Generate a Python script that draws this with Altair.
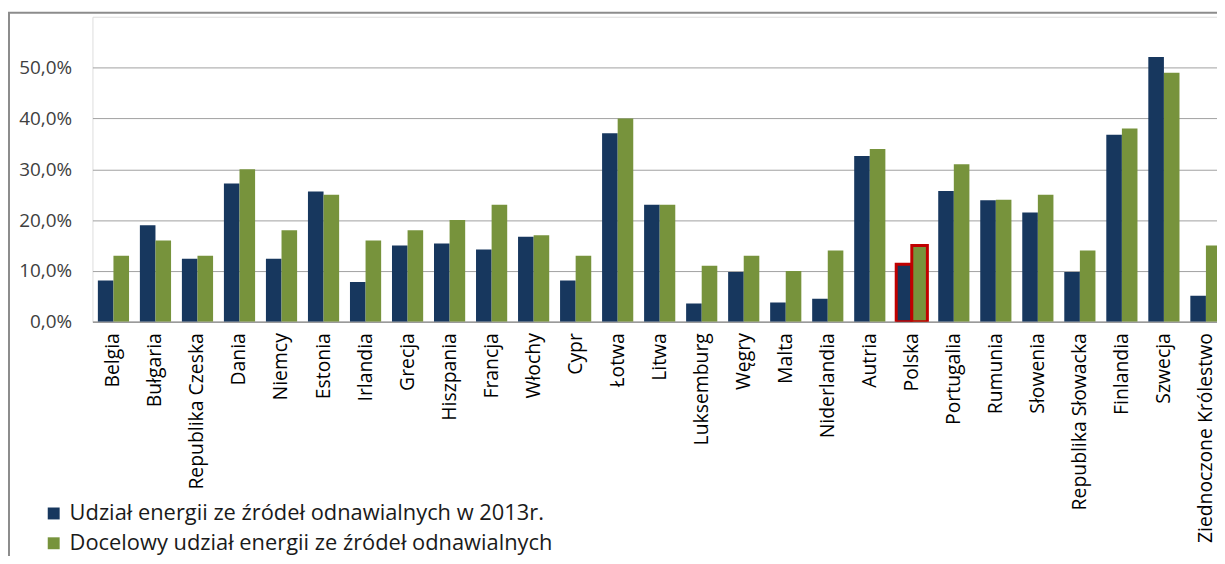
import altair as alt
import pandas as pd

countries = ["Belgia", "Bułgaria", "Republika Czeska", "Dania", "Niemcy", "Estonia", "Irlandia",
             "Grecja", "Hiszpania", "Francja", "Włochy", "Cypr", "Łotwa", "Litwa", "Luksemburg",
             "Węgry", "Malta", "Niderlandia", "Autria", "Polska", "Portugalia", "Rumunia",
             "Słowenia", "Republika Słowacka", "Finlandia", "Szwecja", "Ziednoczone Królestwo"]
share_2013 = [8.1, 19.0, 12.4, 27.2, 12.4, 25.6, 7.8, 15.0, 15.4, 14.2, 16.7, 8.1, 37.1, 23.0, 3.6,
              9.8, 3.8, 4.5, 32.6, 11.3, 25.7, 23.9, 21.5, 9.8, 36.8, 52.1, 5.1]
target_share = [13, 16, 13, 30, 18, 25, 16, 18, 20, 23, 17, 13, 40, 23, 11, 13, 10, 14, 34, 15, 31,
                24, 25, 14, 38, 49, 15]
series = ["Udział energii ze źródeł odnawialnych w 2013r.",
          "Docelowy udział energii ze źródeł odnawialnych"]
y_ticks = [0, 10, 20, 30, 40, 50]
highlight = "Polska"

rows = []
for c, a, b in zip(countries, share_2013, target_share):
    rows.append({"kraj": c, "seria": series[0], "wartosc": a})
    rows.append({"kraj": c, "seria": series[1], "wartosc": b})
df = pd.DataFrame(rows)

W = 1132
H = 307
FULL = 1142

bars = alt.Chart(df).mark_bar(clip=True).encode(
    x=alt.X("kraj:N", sort=countries,
            scale=alt.Scale(range=[0, FULL], paddingInner=0.258, paddingOuter=0.129),
            axis=alt.Axis(title=None, labelAngle=-90, labelAlign="right", labelBaseline="middle",
                          labelPadding=11, ticks=False, domainColor="#9a9a9a", domainWidth=1.5,
                          labelFont="Open Sans", labelFontSize=19.5, labelColor="#000000",
                          labelLimit=400, labelOverlap=False, grid=False)),
    xOffset=alt.XOffset("seria:N", sort=series, scale=alt.Scale(paddingInner=0, paddingOuter=0)),
    y=alt.Y("wartosc:Q", scale=alt.Scale(domain=[0, 60], nice=False),
            axis=alt.Axis(title=None, values=y_ticks, domain=False, ticks=False, labelPadding=21,
                          labelExpr="replace(format(datum.value, '.1f'), '.', ',') + '%'",
                          labelFont="Open Sans", labelFontSize=19, labelColor="#404040",
                          gridColor="#a0a0a0", gridWidth=1)),
    color=alt.Color("seria:N",
                    scale=alt.Scale(domain=series, range=["#17375E", "#77933C"]),
                    legend=alt.Legend(title=None, orient="none", legendX=-50, legendY=489,
                                      symbolType="square", symbolSize=144, symbolStrokeWidth=0,
                                      labelFont="Open Sans", labelFontSize=22, labelOffset=5,
                                      labelColor="#1a1a1a", rowPadding=8, padding=0,
                                      labelLimit=900, direction="vertical")),
    stroke=alt.condition(alt.datum.kraj == highlight, alt.value("#C00000"), alt.value("transparent")),
    strokeWidth=alt.condition(alt.datum.kraj == highlight, alt.value(3), alt.value(0)),
)

frame_df = pd.DataFrame({"k": [0]})
left_border = alt.Chart(frame_df).mark_rule(color="#8c8c8c", strokeWidth=2).encode(
    x=alt.value(-84), y=alt.value(-4), y2=alt.value(560))
top_border = alt.Chart(frame_df).mark_rule(color="#8c8c8c", strokeWidth=2).encode(
    x=alt.value(-85), x2=alt.value(FULL + 20), y=alt.value(-4))

chart = alt.layer(bars, left_border, top_border).properties(
    width=W, height=H,
    autosize=alt.AutoSizeParams(type="none"),
    padding={"left": 85, "top": 7, "right": 0, "bottom": 234},
).configure_view(stroke=None).configure(background="white")

chart.save("out.html", embed_options={"renderer": "svg", "actions": False})
